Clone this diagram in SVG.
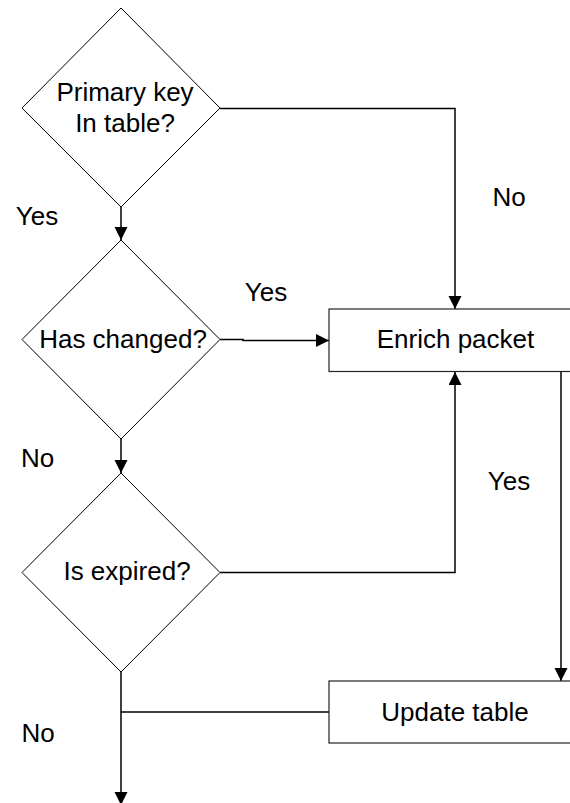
<svg xmlns="http://www.w3.org/2000/svg" width="570" height="803" viewBox="0 0 570 803">
  <style>
    .shape { fill: #ffffff; stroke: #000000; stroke-width: 1; }
    .box { fill: #ffffff; stroke: #222222; stroke-width: 1.2; }
    .link { fill: none; stroke: #000000; stroke-width: 1.5; }
    .txt { font-family: "Liberation Sans", Arial, sans-serif; font-size: 26px; fill: #000000; text-anchor: middle; }
  </style>
  <defs>
    <marker id="arrow" markerUnits="userSpaceOnUse" markerWidth="14" markerHeight="14" refX="13" refY="6.5" orient="auto">
      <path d="M0,0 L13,6.5 L0,13 Z" fill="#000000"/>
    </marker>
  </defs>
  <rect width="570" height="803" fill="#ffffff"/>

  <g id="connectors">
    <path class="link" d="M121,207 V240" marker-end="url(#arrow)"/>
    <path class="link" d="M220,108.5 H455 V309" marker-end="url(#arrow)"/>
    <path class="link" d="M220,339.5 H243 V340.5 H329" marker-end="url(#arrow)"/>
    <path class="link" d="M121,439 V473" marker-end="url(#arrow)"/>
    <path class="link" d="M220,572.5 H455 V372" marker-end="url(#arrow)"/>
    <path class="link" d="M561,371 V681" marker-end="url(#arrow)"/>
    <path class="link" d="M121,672 V805" marker-end="url(#arrow)"/>
    <path class="link" d="M329,712 H121"/>
  </g>

  <g id="primary-key">
    <polygon class="shape" points="121,8 220,108 121,207 22,108"/>
    <text class="txt" x="125" y="101">Primary key</text>
    <text class="txt" x="125" y="132">In table?</text>
  </g>

  <g id="has-changed">
    <polygon class="shape" points="121,240 220,339.5 121,439 22,339.5"/>
    <text class="txt" x="123" y="348">Has changed?</text>
  </g>

  <g id="is-expired">
    <polygon class="shape" points="121,473 220,572.5 121,672 22,572.5"/>
    <text class="txt" x="127" y="580">Is expired?</text>
  </g>

  <g id="enrich-packet">
    <rect class="box" x="329" y="309" width="250" height="62.5"/>
    <text class="txt" x="455.5" y="348">Enrich packet</text>
  </g>

  <g id="update-table">
    <rect class="box" x="329" y="681" width="250" height="62"/>
    <text class="txt" x="455" y="721">Update table</text>
  </g>

  <g id="labels">
    <text class="txt" x="37" y="225">Yes</text>
    <text class="txt" x="509" y="206">No</text>
    <text class="txt" x="266" y="301">Yes</text>
    <text class="txt" x="37.5" y="467">No</text>
    <text class="txt" x="509" y="490">Yes</text>
    <text class="txt" x="38" y="742">No</text>
  </g>
</svg>
